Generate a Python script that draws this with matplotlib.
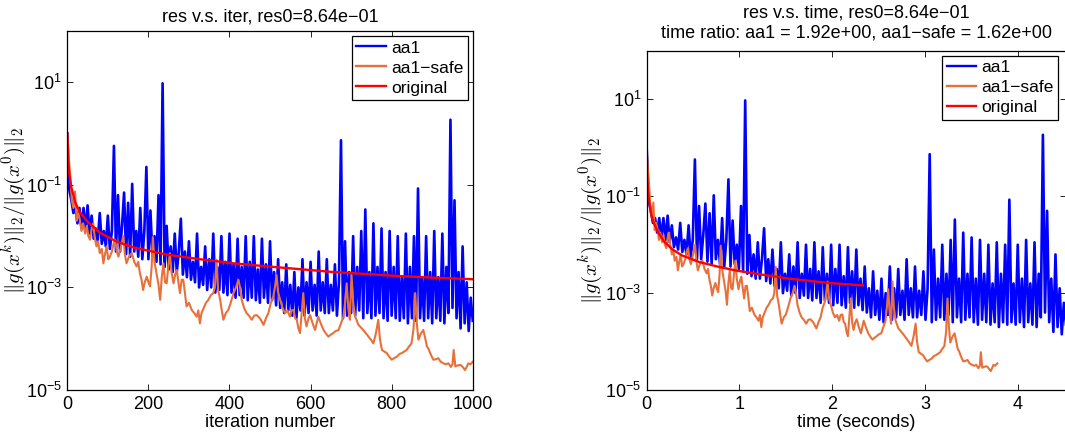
#!/usr/bin/env python3
# -*- coding: utf-8 -*-

import numpy as np
import matplotlib
matplotlib.use('Agg')
import matplotlib.pyplot as plt

plt.rcParams['font.family'] = ['Liberation Sans', 'DejaVu Sans']
plt.rcParams['mathtext.fontset'] = 'custom'
plt.rcParams['mathtext.rm'] = 'Liberation Sans'
plt.rcParams['mathtext.it'] = 'Liberation Sans:italic'
plt.rcParams['mathtext.bf'] = 'Liberation Sans:bold'

# ------------------------------- DATA -------------------------------------- #

# aa1: log10 of residual ratio, every 5 iterations (0..1000)
aa1_iter = np.arange(0, 1001, 5)
aa1_exp = [
    0.0, -1.1, -1.3, -1.55, -1.45, -1.75, -1.45, -1.85, -1.45, -1.9,
    -1.4, -1.95, -1.6, -2.05, -1.85, -2.1, -1.55, -2.15, -1.9, -2.2,
    -1.6, -2.25, -1.9, -0.24, -2.3, -1.2, -2.3, -1.8, -1.15, -2.35,
    -1.35, -2.4, -0.98, -2.3, -1.9, -2.4, -1.45, -2.45, -1.9, -0.65,
    -2.45, -1.5, -2.4, -2.0, -2.5, -1.2, -2.55, 0.98, -2.6, -1.8,
    -2.65, -2.2, -2.7, -1.95, -2.7, -2.3, -1.66, -2.75, -2.3, -2.8,
    -2.1, -2.85, -2.5, -2.9, -1.95, -3.0, -2.6, -2.95, -2.2, -3.05,
    -2.45, -3.0, -1.95, -3.1, -2.6, -3.05, -2.0, -3.1, -2.5, -3.15,
    -1.95, -3.1, -2.55, -3.2, -2.05, -3.15, -2.6, -3.2, -2.0, -3.25,
    -2.5, -3.2, -2.0, -3.25, -2.65, -3.3, -2.05, -3.2, -2.55, -3.3,
    -2.1, -3.25, -2.7, -3.35, -2.45, -3.4, -2.9, -3.5, -2.55, -3.45,
    -2.95, -3.55, -2.7, -3.6, -3.0, -3.45, -2.45, -3.55, -2.9, -3.5,
    -2.5, -3.45, -2.95, -3.55, -2.3, -3.45, -2.9, -3.5, -2.45, -3.5,
    -2.95, -3.45, -2.55, -3.55, -2.9, -0.13, -3.6, -2.1, -3.55, -2.7,
    -3.5, -2.0, -3.55, -2.6, -3.45, -1.9, -3.6, -1.48, -3.5, -2.7,
    -3.6, -1.75, -3.55, -2.6, -3.5, -1.85, -3.6, -2.7, -3.65, -1.9,
    -3.55, -2.6, -3.6, -2.0, -3.65, -2.8, -3.6, -1.95, -3.7, -2.6,
    -3.6, -2.0, -3.65, -1.07, -3.6, -2.8, -3.65, -2.0, -3.6, -2.7,
    -3.7, -1.9, -3.6, -2.8, -3.65, -1.95, -3.7, -2.6, -3.5, 0.27,
    -3.4, -1.3, -3.6, -2.7, -3.8, -2.2, -3.7, -2.9, -3.85, -3.2,
    -3.65]

# aa1-safe
safe_iter = [
    0, 4, 8, 11, 15, 19, 23, 27, 31, 35,
    39, 44, 48, 52, 56, 60, 64, 68, 72, 76,
    80, 85, 89, 93, 97, 101, 105, 110, 114, 118,
    122, 126, 131, 138, 142, 146, 152, 159, 165, 171,
    175, 179, 183, 187, 191, 196, 200, 204, 208, 211,
    215, 220, 225, 229, 233, 237, 241, 245, 249, 253,
    257, 262, 266, 270, 274, 278, 282, 286, 290, 294,
    300, 307, 313, 319, 323, 327, 331, 336, 342, 348,
    354, 360, 364, 368, 372, 377, 381, 385, 391, 397,
    403, 410, 416, 422, 426, 430, 436, 442, 448, 455,
    461, 467, 475, 484, 490, 496, 502, 508, 512, 516,
    520, 525, 531, 537, 543, 549, 553, 558, 562, 566,
    570, 574, 578, 582, 586, 590, 595, 599, 605, 611,
    615, 619, 625, 632, 638, 644, 650, 656, 662, 669,
    675, 681, 685, 689, 693, 697, 701, 705, 710, 714,
    718, 724, 730, 737, 743, 749, 755, 761, 767, 771,
    776, 782, 788, 794, 800, 806, 813, 819, 825, 831,
    837, 843, 849, 854, 858, 862, 866, 872, 878, 883,
    887, 891, 895, 899, 903, 909, 915, 921, 928, 934,
    940, 946, 950, 953, 957, 963, 970, 975, 981, 985,
    989, 994, 1000]
safe_exp = [
    0.0, -0.5, -0.9, -1.3, -1.45, -1.13, -1.7, -1.55, -1.68, -1.9,
    -1.75, -1.95, -1.8, -2.0, -2.07, -1.85, -1.75, -2.05, -2.2, -2.1,
    -2.33, -2.25, -2.53, -2.35, -2.2, -2.45, -2.4, -2.3, -2.15, -2.07,
    -2.3, -2.4, -2.25, -2.0, -2.35, -2.53, -2.4, -2.33, -2.5, -2.59,
    -2.5, -2.72, -2.85, -3.05, -2.9, -2.79, -2.9, -2.98, -2.6, -2.02,
    -2.5, -2.72, -2.95, -3.24, -2.8, -2.53, -2.9, -2.92, -2.6, -2.33,
    -2.7, -2.92, -2.75, -2.66, -2.9, -3.11, -2.85, -2.85, -3.1, -3.37,
    -3.3, -3.44, -3.5, -3.57, -3.45, -3.7, -3.5, -3.41, -3.3, -3.24,
    -3.15, -3.11, -3.0, -2.46, -3.05, -3.24, -3.45, -3.63, -3.5, -3.44,
    -3.3, -3.11, -3.0, -2.85, -3.0, -3.24, -3.4, -3.5, -3.55, -3.63,
    -3.55, -3.54, -3.6, -3.73, -3.6, -3.5, -3.3, -3.18, -3.0, -2.76,
    -3.1, -3.24, -3.4, -3.5, -3.45, -3.57, -3.45, -3.44, -3.6, -3.63,
    -3.8, -3.89, -3.5, -3.11, -3.6, -3.76, -3.6, -3.54, -3.7, -3.83,
    -3.7, -3.57, -3.7, -3.83, -3.9, -3.96, -3.92, -3.89, -3.85, -3.83,
    -3.7, -3.57, -3.3, -2.92, -3.4, -3.63, -2.76, -3.3, -3.57, -3.65,
    -3.73, -3.78, -3.83, -3.9, -3.96, -4.02, -4.09, -3.9, -3.63, -4.0,
    -4.22, -4.25, -4.28, -4.35, -4.41, -4.38, -4.35, -4.3, -4.28, -4.25,
    -4.22, -4.15, -4.09, -3.8, -3.11, -3.7, -4.02, -3.9, -3.83, -4.0,
    -4.15, -4.2, -4.28, -4.35, -4.41, -4.4, -4.38, -4.45, -4.48, -4.5,
    -4.48, -4.55, -4.5, -4.22, -4.54, -4.52, -4.51, -4.55, -4.61, -4.55,
    -4.48, -4.5, -4.45]

# original
orig_iter = [0, 2, 5, 10, 20, 30, 50, 80, 120, 163, 245, 327, 410, 493,
             575, 657, 740, 822, 904, 1000]
orig_exp = [0.0, -0.5, -0.8, -1.05, -1.35, -1.52, -1.72, -1.93, -2.1, -2.22,
            -2.36, -2.45, -2.53, -2.59, -2.645, -2.70, -2.74, -2.78, -2.81,
            -2.84]

# total run time (seconds) of each method for 1000 iterations
time_aa1 = 4.52
time_safe = 3.78
time_orig = 2.33

series = [('aa1', aa1_iter, aa1_exp, time_aa1, '#0000FF', 1.9),
          ('aa1\u2212safe', safe_iter, safe_exp, time_safe, '#E8703A', 1.5),
          ('original', orig_iter, orig_exp, time_orig, '#FF0000', 1.7)]

ylab = r'$\|g(x^k)\|_2/\|g(x^0)\|_2$'
fs = 13

# ------------------------------- PLOT -------------------------------------- #

def style(ax, xmax):
    '''MATLAB-like log axes'''
    ax.set_yscale('log')
    ax.set_ylim(1e-5, 1e2)
    ax.set_xlim(0, xmax)
    ax.set_yticks([1e-5, 1e-3, 1e-1, 1e1])
    ax.minorticks_off()
    ax.tick_params(direction='in', top=True, right=True, length=4,
                   width=0.6, labelsize=fs, pad=4)
    for sp in ax.spines.values():
        sp.set_linewidth(0.9)
    ax.set_ylabel(ylab, fontsize=15, math_fontfamily='cm')


fig = plt.figure(figsize=(10.65, 4.36), dpi=100)
ax1 = fig.add_axes([0.0632, 0.1055, 0.3807, 0.8234])
ax2 = fig.add_axes([0.6072, 0.1055, 0.3937, 0.7775])  # runs off the right edge

for name, it, ex, ttot, col, lw in series:
    it = np.asarray(it, dtype=float)
    y = 10.0 ** np.asarray(ex)
    ax1.plot(it, y, color=col, lw=lw, label=name, solid_joinstyle='round')
    ax2.plot(it / 1000.0 * ttot, y, color=col, lw=lw, label=name,
             solid_joinstyle='round')

style(ax1, 1000)
ax1.set_xticks([0, 200, 400, 600, 800, 1000])
ax1.set_xlabel('iteration number', fontsize=fs, labelpad=1)
ax1.set_title('res v.s. iter, res0=8.64e\u221201', fontsize=fs, pad=7)
ax1.yaxis.set_label_coords(-0.097, 0.5)

style(ax2, 4.52)
ax2.set_xticks([0, 1, 2, 3, 4])
ax2.set_xlabel('time (seconds)', fontsize=fs, labelpad=1)
ax2.set_title('res v.s. time, res0=8.64e\u221201\n'
              'time ratio: aa1 = 1.92e+00, aa1\u2212safe = 1.62e+00',
              fontsize=fs, pad=10, linespacing=1.2)
ax2.yaxis.set_label_coords(-0.0995, 0.5)

for ax, anchor in [(ax1, (0.988, 0.986)), (ax2, (0.981, 0.986))]:
    leg = ax.legend(loc='upper right', bbox_to_anchor=anchor, borderaxespad=0,
                    fontsize=12.5, fancybox=False, framealpha=1,
                    edgecolor='black', handlelength=1.7, labelspacing=0.28,
                    handletextpad=0.3, borderpad=0.25)
    leg.get_frame().set_linewidth(0.9)
    for h in leg.get_lines():
        h.set_linewidth(1.7)

fig.savefig('out.png', dpi=100)
